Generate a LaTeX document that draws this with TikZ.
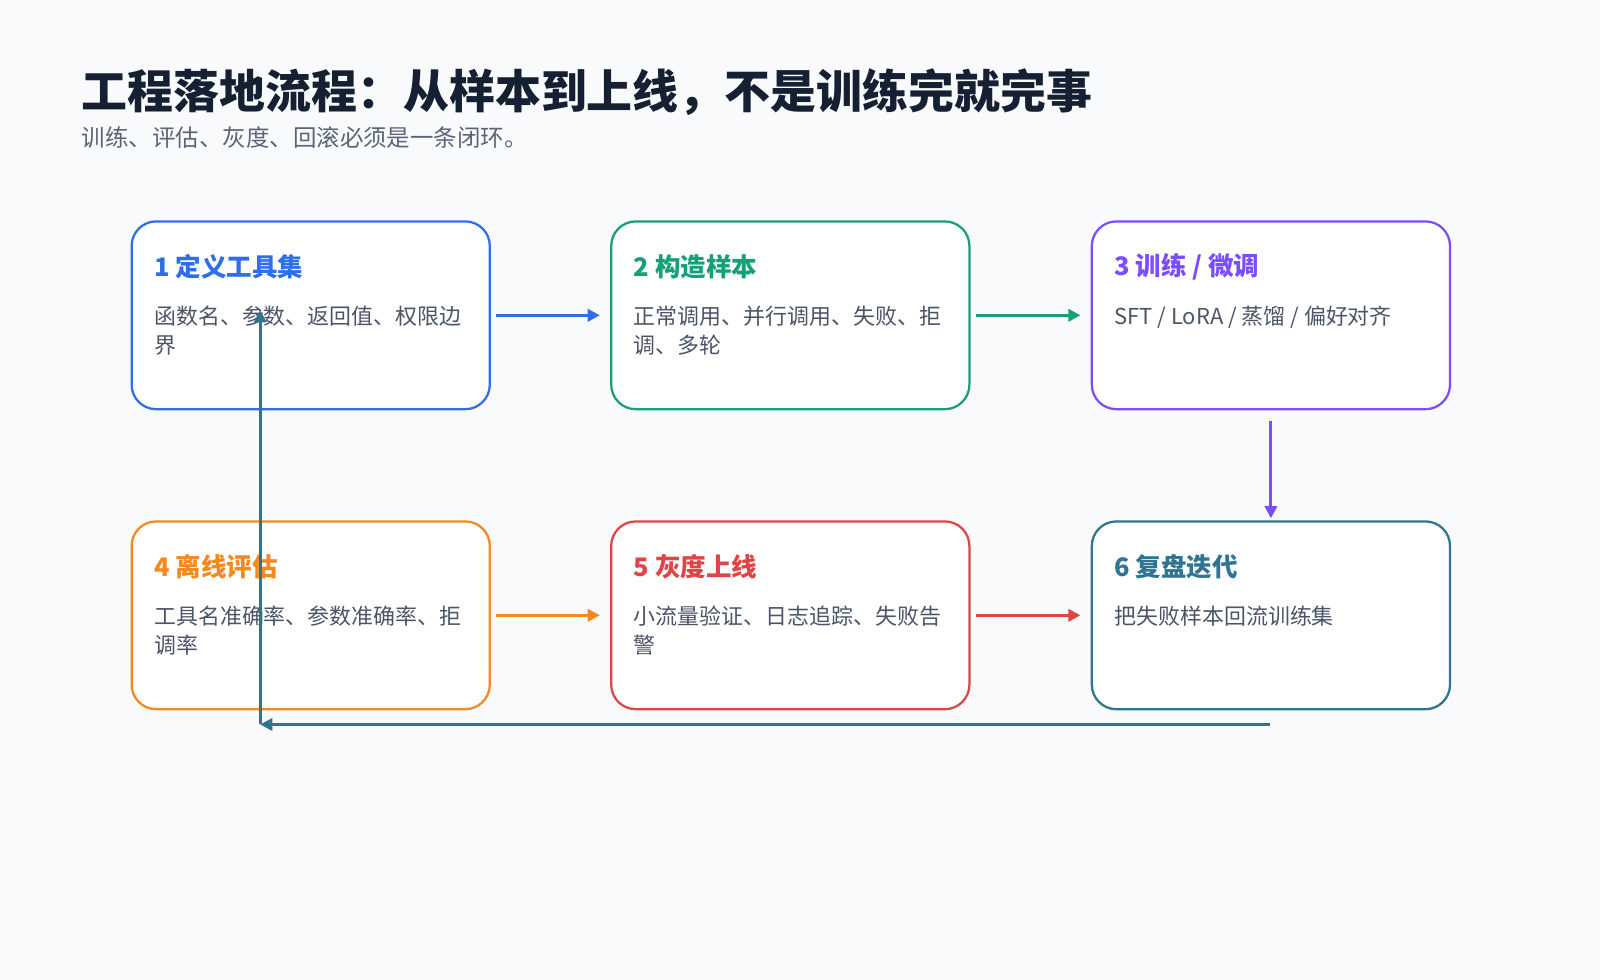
\documentclass[tikz,border=0pt]{standalone}
\usepackage{fontspec}
\setmainfont{Noto Sans CJK SC}
\usetikzlibrary{arrows.meta}
\definecolor{bg}{HTML}{F8FAFC}
\definecolor{ttl}{HTML}{162033}
\definecolor{sub}{HTML}{5B6577}
\definecolor{body}{HTML}{4A5568}
\definecolor{cA}{HTML}{2D6EEB}
\definecolor{cB}{HTML}{16A07A}
\definecolor{cC}{HTML}{7C4DFF}
\definecolor{cD}{HTML}{F5891F}
\definecolor{cE}{HTML}{E04545}
\definecolor{cF}{HTML}{2E7591}
\begin{document}
\begin{tikzpicture}[x=1pt,y=-1pt,
 box/.style={draw=#1,line width=2.2pt,rounded corners=24pt,minimum width=351pt,minimum height=184pt,fill=white,inner sep=0pt},
 hd/.style={anchor=west,inner sep=0pt,text=#1,font=\fontsize{25}{28}\selectfont\bfseries},
 bd/.style={anchor=north west,inner sep=0pt,text=body,font=\fontsize{21.5}{28.5}\selectfont,align=left},
 ar/.style={draw=#1,line width=3pt,-{Triangle[length=12pt,width=12pt]}}]
\useasboundingbox[fill=bg] (0,0) rectangle (1568,960);
\node[anchor=base west,inner sep=0pt,text=ttl,font=\fontsize{45}{50}\selectfont\bfseries] (t) at (80,106) {工程落地流程：从样本到上线，不是训练完就完事};
\node[anchor=west,inner sep=0pt,text=sub,font=\fontsize{23}{26}\selectfont] (s) at (80,135) {训练、评估、灰度、回滚必须是一条闭环。};
\node[box=cA] (b1) at (304.5,309) {};
\node[box=cB] (b2) at (774.5,309) {};
\node[box=cC] (b3) at (1245.5,309) {};
\node[box=cD] (b4) at (304.5,603) {};
\node[box=cE] (b5) at (774.5,603) {};
\node[box=cF] (b6) at (1245.5,603) {};
\node[hd=cA] (h1) at (151,261) {1 定义工具集};
\node[hd=cB] (h2) at (621,261) {2 构造样本};
\node[hd=cC] (h3) at (1092,261) {3 训练 / 微调};
\node[hd=cD] (h4) at (151,555) {4 离线评估};
\node[hd=cE] (h5) at (621,555) {5 灰度上线};
\node[hd=cF] (h6) at (1092,555) {6 复盘迭代};
\node[bd] (d1) at (151,300) {函数名、参数、返回值、权限边\\界};
\node[bd] (d2) at (621,300) {正常调用、并行调用、失败、拒\\调、多轮};
\node[bd] (d3) at (1092,300) {SFT / LoRA / 蒸馏 / 偏好对齐};
\node[bd] (d4) at (151,594) {工具名准确率、参数准确率、拒\\调率};
\node[bd] (d5) at (621,594) {小流量验证、日志追踪、失败告\\警};
\node[bd] (d6) at (1092,594) {把失败样本回流训练集};
\draw[ar=cA] ([xshift=5pt]b1.east) -- ([xshift=-10pt]b2.west);
\draw[ar=cB] ([xshift=5pt]b2.east) -- ([xshift=-10pt]b3.west);
\draw[ar=cC] ([yshift=-10pt]b3.south) -- ([yshift=2pt]b6.north);
\draw[ar=cD] ([xshift=5pt]b4.east) -- ([xshift=-10pt]b5.west);
\draw[ar=cE] ([xshift=5pt]b5.east) -- ([xshift=-10pt]b6.west);
\coordinate (f0) at (1245,710);
\coordinate (f1) at (255,710);
\coordinate (f2) at (255,304);
\draw[ar=cF] (f0) -- (f1);
\draw[ar=cF] (f1) -- (f2);
\end{tikzpicture}
\end{document}
